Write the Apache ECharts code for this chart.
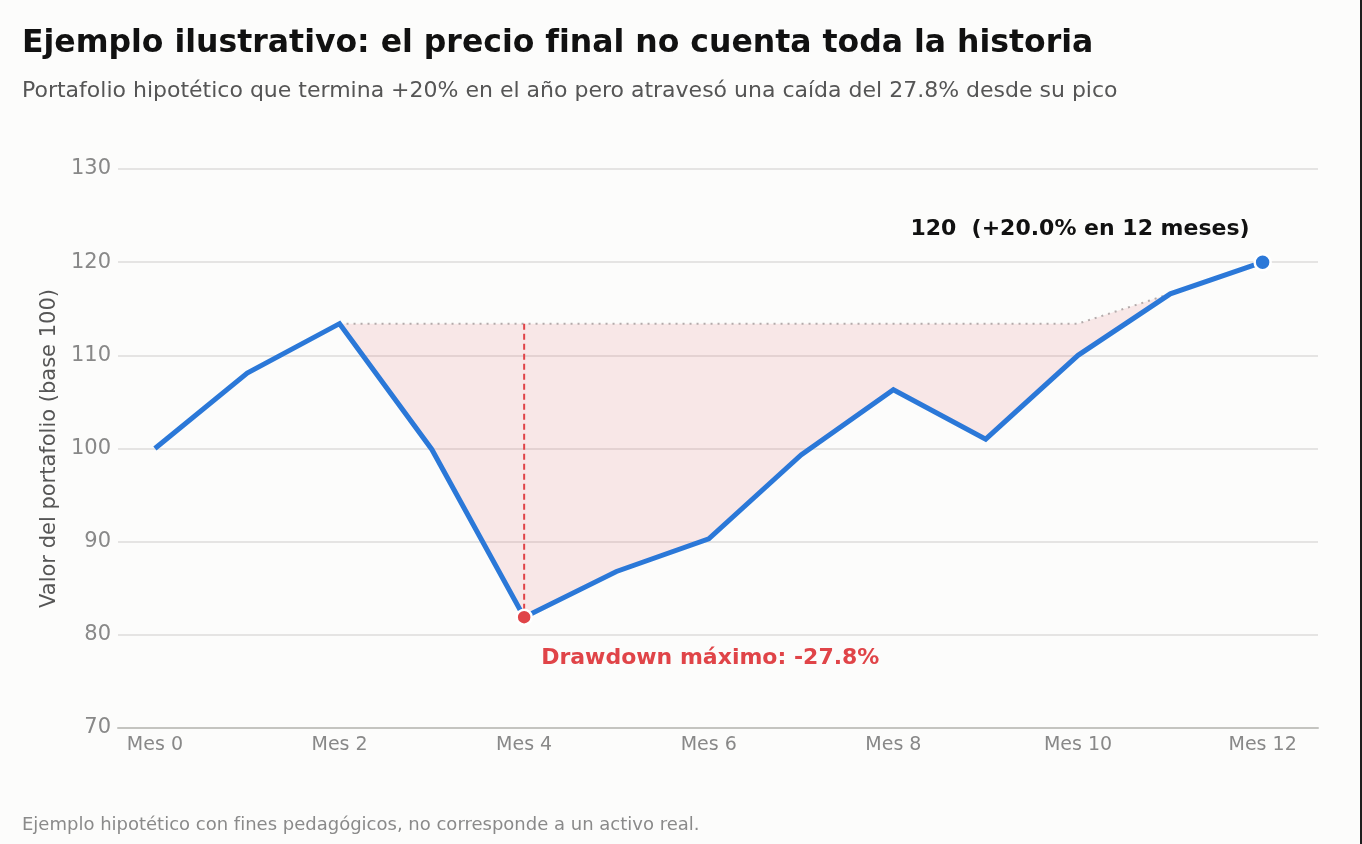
<!DOCTYPE html>
<html lang="es">
<head>
<meta charset="UTF-8">
<title>Ejemplo ilustrativo: drawdown</title>
<script src="https://cdn.jsdelivr.net/npm/echarts@6/dist/echarts.min.js"></script>
<style>
  html, body { margin: 0; padding: 0; background: #1e1e1e; }
  #main { width: 1360px; height: 844px; background: #fcfcfb; }
</style>
</head>
<body>
<div id="main"></div>
<script type="text/javascript">
// datos
var meses = [0, 1, 2, 3, 4, 5, 6, 7, 8, 9, 10, 11, 12];
var valores = [100, 108.1, 113.4, 99.9, 81.9, 86.8, 90.3, 99.3, 106.3, 101.0, 110.0, 116.6, 120];
var maximoPrevio = [100, 108.1, 113.4, 113.4, 113.4, 113.4, 113.4, 113.4, 113.4, 113.4, 113.4, 116.6, 120];
var etiquetasX = [0, 2, 4, 6, 8, 10, 12];
var idxPico = 2, idxValle = 4;

var chart = echarts.init(document.getElementById('main'));

var FONT = '"DejaVu Sans", sans-serif';
var azul = '#2b78d8';
var rojo = '#e04448';

function pares(arr) {
    return meses.map(function (m, i) { return [m, arr[i]]; });
}

var lineaPico = maximoPrevio.map(function (v, i) { return i >= idxPico ? v : null; });
var ddMax = (valores[idxValle] / maximoPrevio[idxValle] - 1) * 100;
var ret = (valores[valores.length - 1] / valores[0] - 1) * 100;

// zona sombreada entre el maximo previo y el valor (un solo poligono)
function dibujarSombra(params, api) {
    if (params.dataIndexInside !== 0) return;
    var n = params.dataInsideLength;
    var arriba = [], abajo = [];
    for (var i = 0; i < n; i++) {
        arriba.push(api.coord([api.value(0, i), api.value(2, i)]));
        abajo.unshift(api.coord([api.value(0, i), api.value(1, i)]));
    }
    return {
        type: 'polygon',
        shape: { points: arriba.concat(abajo) },
        style: { fill: 'rgba(222, 90, 100, 0.13)' },
        silent: true
    };
}

var option = {
    backgroundColor: '#fcfcfb',
    animation: false,
    textStyle: { fontFamily: FONT },
    title: [
        {
            text: 'Ejemplo ilustrativo: el precio final no cuenta toda la historia',
            left: 22, top: 28, padding: 0,
            textStyle: { fontFamily: FONT, fontSize: 31.5, fontWeight: 'bold', color: '#111' }
        },
        {
            text: 'Portafolio hipotético que termina +20% en el año pero atravesó una caída del 27.8% desde su pico',
            left: 22, top: 80, padding: 0,
            textStyle: { fontFamily: FONT, fontSize: 22, fontWeight: 'normal', color: '#555' }
        },
        {
            text: 'Ejemplo hipotético con fines pedagógicos, no corresponde a un activo real.',
            left: 22, top: 816, padding: 0,
            textStyle: { fontFamily: FONT, fontSize: 18, fontWeight: 'normal', color: '#8a8a8a' }
        }
    ],
    grid: { left: 118, right: 42, top: 169, bottom: 116 },
    xAxis: {
        type: 'value',
        min: -0.4, max: 12.6,
        splitLine: { show: false },
        axisLine: { show: true, lineStyle: { color: '#c4c4c0', width: 2 } },
        axisTick: { show: false },
        axisLabel: {
            customValues: etiquetasX,
            formatter: 'Mes {value}',
            fontFamily: FONT, fontSize: 19, color: '#888', margin: 8
        }
    },
    yAxis: {
        type: 'value',
        min: 70, max: 130, interval: 10,
        name: 'Valor del portafolio (base 100)',
        nameLocation: 'middle',
        nameGap: 57,
        nameTextStyle: { fontFamily: FONT, fontSize: 21, color: '#555' },
        axisLine: { show: false },
        axisTick: { show: false },
        axisLabel: { fontFamily: FONT, fontSize: 21, color: '#888', margin: 7 },
        splitLine: { lineStyle: { color: '#dedddb', width: 1.5 } }
    },
    series: [
        {
            name: 'sombra',
            type: 'custom',
            renderItem: dibujarSombra,
            data: meses.map(function (m, i) { return [m, valores[i], maximoPrevio[i]]; }),
            encode: { x: 0, y: [1, 2] },
            silent: true,
            z: 1
        },
        {
            name: 'máximo previo',
            type: 'line',
            data: pares(lineaPico),
            symbol: 'none',
            lineStyle: { color: '#b3abab', width: 2, type: [2, 5] },
            z: 2
        },
        {
            name: 'drawdown',
            type: 'line',
            data: [[meses[idxValle], maximoPrevio[idxValle]], [meses[idxValle], valores[idxValle]]],
            symbol: 'none',
            lineStyle: { color: rojo, width: 2, type: [6, 4] },
            z: 3
        },
        {
            name: 'Portafolio',
            type: 'line',
            data: pares(valores),
            symbol: 'none',
            lineStyle: { color: azul, width: 5, join: 'miter' },
            z: 4
        },
        {
            name: 'valle',
            type: 'scatter',
            data: [[meses[idxValle], valores[idxValle]]],
            symbolSize: 15,
            itemStyle: { color: rojo, borderColor: '#fff', borderWidth: 2.5, opacity: 1 },
            label: {
                show: true,
                position: 'inside',
                align: 'left',
                verticalAlign: 'middle',
                offset: [17, 41],
                formatter: 'Drawdown máximo: ' + ddMax.toFixed(1) + '%',
                fontFamily: FONT, fontSize: 22, fontWeight: 'bold', color: rojo
            },
            z: 5
        },
        {
            name: 'final',
            type: 'scatter',
            data: [[meses[meses.length - 1], valores[valores.length - 1]]],
            symbolSize: 16,
            itemStyle: { color: azul, borderColor: '#fff', borderWidth: 2.5, opacity: 1 },
            label: {
                show: true,
                position: 'inside',
                align: 'right',
                verticalAlign: 'middle',
                offset: [-13, -33],
                formatter: valores[valores.length - 1] + '  (+' + ret.toFixed(1) + '% en 12 meses)',
                fontFamily: FONT, fontSize: 22, fontWeight: 'bold', color: '#111'
            },
            z: 5
        }
    ]
};

chart.setOption(option);
</script>
</body>
</html>
